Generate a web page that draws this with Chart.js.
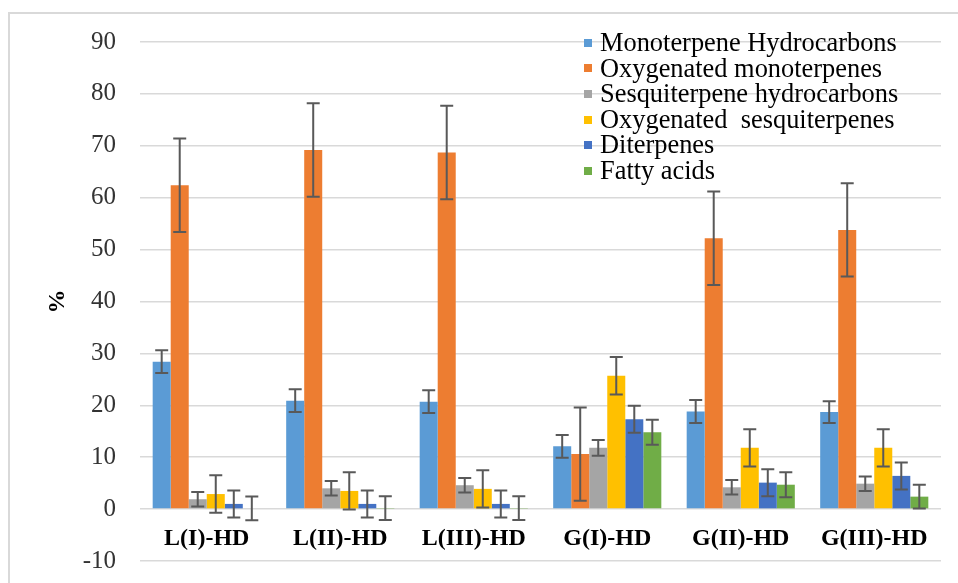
<!DOCTYPE html>
<html>
<head>
<meta charset="utf-8">
<script src="https://cdn.jsdelivr.net/npm/chart.js@4/dist/chart.umd.min.js"></script>
<style>
  html, body { margin: 0; padding: 0; background: #ffffff; }
  #wrap { position: relative; width: 958px; height: 583px; overflow: hidden; }
  #frame { position: absolute; left: 8px; top: 12px; width: 1000px; height: 700px;
           border: 2px solid #d9d9d9; box-sizing: border-box; }
  canvas { position: absolute; left: 0; top: 0; }
  #legend { position: absolute; left: 584px; top: 30px; font-family: "Liberation Serif", "Times New Roman", serif;
            font-size: 26.4px; color: #000; }
  .item { height: 25.6px; line-height: 25.6px; white-space: pre; display: flex; align-items: center; }
  .sw { width: 8px; height: 8px; margin-right: 8px; flex: none; }
</style>
</head>
<body>
<div id="wrap">
  <div id="frame"></div>
  <canvas id="c" width="958" height="583"></canvas>
  <div id="legend"></div>
</div>
<script>
// ---- Data ----
const categories = ['L(I)-HD', 'L(II)-HD', 'L(III)-HD', 'G(I)-HD', 'G(II)-HD', 'G(III)-HD'];
const seriesNames = ['Monoterpene Hydrocarbons', 'Oxygenated monoterpenes', 'Sesquiterpene hydrocarbons',
                     'Oxygenated  sesquiterpenes', 'Diterpenes', 'Fatty acids'];
const monoterpeneHC   = [28.4, 20.9, 20.7, 12.1, 18.8, 18.7];
const monoterpeneHCErr = [2.2, 2.2, 2.2, 2.2, 2.2, 2.1];
const oxyMonoterpenes = [62.4, 69.2, 68.7, 10.6, 52.2, 53.8];
const oxyMonoErr      = [9.0, 9.0, 9.0, 9.0, 9.0, 9.0];
const sesquiHC        = [1.9, 4.0, 4.6, 11.8, 4.2, 4.9];
const sesquiHCErr     = [1.4, 1.4, 1.4, 1.5, 1.4, 1.4];
const oxySesqui       = [2.9, 3.5, 3.9, 25.7, 11.8, 11.8];
const oxySesquiErr    = [3.6, 3.6, 3.6, 3.6, 3.6, 3.6];
const diterpenes      = [1.0, 1.0, 1.0, 17.3, 5.1, 6.4];
const diterpenesErr   = [2.6, 2.6, 2.6, 2.6, 2.6, 2.6];
const fattyAcids      = [0.15, 0.2, 0.2, 14.8, 4.7, 2.4];
const fattyAcidsErr   = [2.3, 2.3, 2.3, 2.4, 2.4, 2.3];
const yTicks = { min: -10, max: 90, step: 10 };

const colors = ['#5B9BD5', '#ED7D31', '#A5A5A5', '#FFC000', '#4472C4', '#70AD47'];
const values = [monoterpeneHC, oxyMonoterpenes, sesquiHC, oxySesqui, diterpenes, fattyAcids];
const errors = [monoterpeneHCErr, oxyMonoErr, sesquiHCErr, oxySesquiErr, diterpenesErr, fattyAcidsErr];

// ---- Legend (HTML overlay) ----
const lg = document.getElementById('legend');
seriesNames.forEach((n, i) => {
  const d = document.createElement('div'); d.className = 'item';
  const s = document.createElement('span'); s.className = 'sw'; s.style.background = colors[i];
  const t = document.createElement('span'); t.textContent = n;
  d.appendChild(s); d.appendChild(t); lg.appendChild(d);
});

// ---- Error bars plugin ----
const errorBars = {
  id: 'errorBars',
  afterDatasetsDraw(chart) {
    const ctx = chart.ctx;
    const y = chart.scales.y;
    ctx.save();
    ctx.strokeStyle = '#595959';
    ctx.lineWidth = 2;
    chart.data.datasets.forEach((ds, di) => {
      const meta = chart.getDatasetMeta(di);
      meta.data.forEach((bar, i) => {
        const v = ds.data[i], e = ds.errors[i];
        const x = bar.x;
        const yt = y.getPixelForValue(v + e);
        const yb = y.getPixelForValue(v - e);
        const cw = 6.5;
        ctx.beginPath();
        ctx.moveTo(x, yt); ctx.lineTo(x, yb);
        ctx.moveTo(x - cw, yt); ctx.lineTo(x + cw, yt);
        ctx.moveTo(x - cw, yb); ctx.lineTo(x + cw, yb);
        ctx.stroke();
      });
    });
    ctx.restore();
  }
};

new Chart(document.getElementById('c'), {
  type: 'bar',
  data: {
    labels: categories,
    datasets: values.map((v, i) => ({
      label: seriesNames[i],
      data: v,
      errors: errors[i],
      backgroundColor: colors[i],
      borderWidth: 0,
      categoryPercentage: 0.81,
      barPercentage: 1.0
    }))
  },
  options: {
    responsive: false,
    devicePixelRatio: 1,
    animation: false,
    layout: { padding: { left: 0, right: 17, top: 42, bottom: 22 } },
    plugins: { legend: { display: false }, tooltip: { enabled: false } },
    scales: {
      x: {
        position: { y: 0 },
        afterFit(scale) { scale.height = 0; scale.paddingLeft = 0; scale.paddingRight = 0; },
        grid: { display: false, drawTicks: false },
        border: { display: false },
        ticks: {
          padding: 15,
          color: '#000',
          font: { family: '"Liberation Serif", "Times New Roman", serif', size: 24, weight: 'bold' },
          maxRotation: 0, autoSkip: false
        }
      },
      y: {
        min: yTicks.min, max: yTicks.max,
        afterFit(scale) { scale.width = 140; scale.paddingTop = 0; scale.paddingBottom = 0; },
        grid: { color: '#d9d9d9', lineWidth: 1.5, drawTicks: false },
        border: { display: false },
        ticks: {
          stepSize: yTicks.step,
          padding: 24,
          color: '#333333',
          font: { family: '"Liberation Serif", "Times New Roman", serif', size: 25 }
        },
        title: {
          display: true, text: '%',
          color: '#000',
          padding: { top: 43, bottom: 0 },
          font: { family: '"Liberation Serif", "Times New Roman", serif', size: 24, weight: 'bold' }
        }
      }
    }
  },
  plugins: [errorBars]
});
</script>
</body>
</html>
